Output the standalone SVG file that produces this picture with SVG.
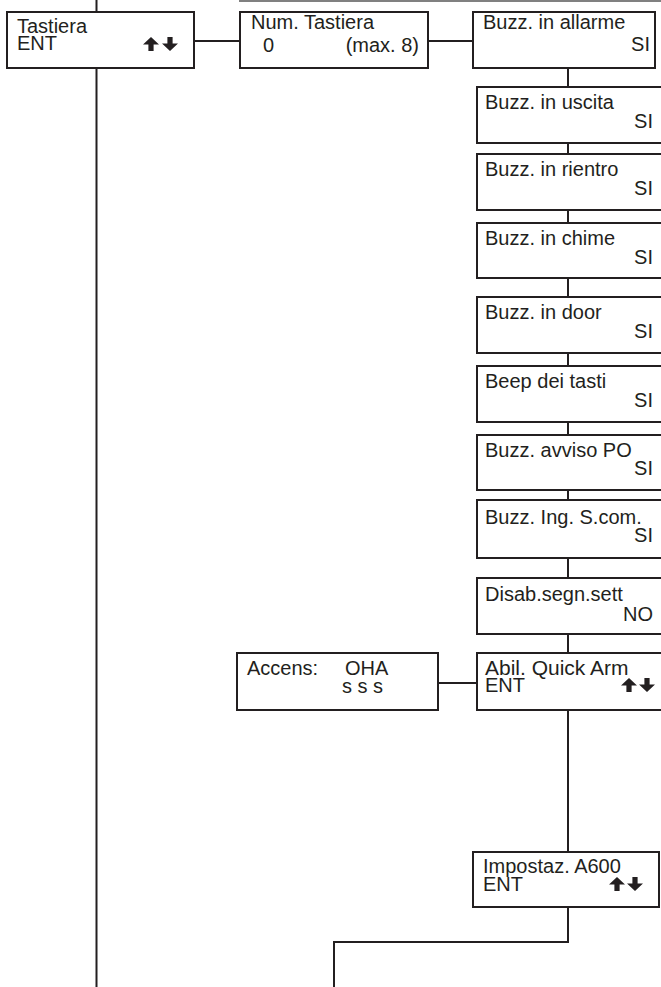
<svg xmlns="http://www.w3.org/2000/svg" width="661" height="987" viewBox="0 0 661 987">
<style>
.box{fill:#fff;stroke:#231f20;stroke-width:2}
.ln{fill:none;stroke:#231f20;stroke-width:2}
.t{font-family:"Liberation Sans",Arial,sans-serif;font-size:20px;fill:#231f20}
.e{text-anchor:end}
.ar{fill:#231f20}
</style>
<defs>
<path id="up" d="M8 0L16 7.5H10.6V14H5.4V7.5H0Z"/>
<path id="dn" d="M5.4 0H10.6V6.5H16L8 14L0 6.5H5.4Z"/>
</defs>
<rect width="661" height="987" fill="#fff"/>
<g id="connectors">
<line x1="239" y1="1" x2="661" y2="1" stroke="#808080" stroke-width="2"/>
<path class="ln" d="M96.5 0V12M96.5 68V987"/>
<path class="ln" d="M194 41H240M428 41H473"/>
<path class="ln" d="M568 68V87M568 143V154M568 210V223M568 278V297M568 353V366M568 422V435M568 490V500M568 558V578M568 634V653M568 710V852M568 907V942H334V987"/>
<path class="ln" d="M438 683H477"/>
</g>
<g id="n-tastiera">
<rect class="box" x="7" y="12" width="187" height="56"/>
<text class="t" x="17" y="33">Tastiera</text>
<text class="t" x="17" y="50">ENT</text>
<use class="ar" href="#up" x="143" y="37"/>
<use class="ar" href="#dn" x="162" y="37"/>
</g>
<g id="n-num">
<rect class="box" x="240" y="12" width="188" height="56"/>
<text class="t" x="251" y="29">Num. Tastiera</text>
<text class="t" x="263" y="52">0</text>
<text class="t e" x="419" y="52">(max. 8)</text>
</g>
<g id="n-allarme">
<rect class="box" x="473" y="12" width="182" height="56"/>
<text class="t" x="483" y="29">Buzz. in allarme</text>
<text class="t e" x="650" y="51">SI</text>
</g>
<g id="n-uscita">
<rect class="box" x="477" y="87" width="200" height="56"/>
<text class="t" x="485" y="109">Buzz. in uscita</text>
<text class="t e" x="653" y="128">SI</text>
</g>
<g id="n-rientro">
<rect class="box" x="477" y="154" width="200" height="56"/>
<text class="t" x="485" y="176">Buzz. in rientro</text>
<text class="t e" x="653" y="195">SI</text>
</g>
<g id="n-chime">
<rect class="box" x="477" y="223" width="200" height="55"/>
<text class="t" x="485" y="245">Buzz. in chime</text>
<text class="t e" x="653" y="264">SI</text>
</g>
<g id="n-door">
<rect class="box" x="477" y="297" width="200" height="56"/>
<text class="t" x="485" y="319">Buzz. in door</text>
<text class="t e" x="653" y="338">SI</text>
</g>
<g id="n-beep">
<rect class="box" x="477" y="366" width="200" height="56"/>
<text class="t" x="485" y="388">Beep dei tasti</text>
<text class="t e" x="653" y="407">SI</text>
</g>
<g id="n-avviso">
<rect class="box" x="477" y="435" width="200" height="55"/>
<text class="t" x="485" y="457">Buzz. avviso PO</text>
<text class="t e" x="653" y="475">SI</text>
</g>
<g id="n-scom">
<rect class="box" x="477" y="500" width="200" height="58"/>
<text class="t" x="485" y="524">Buzz. Ing. S.com.</text>
<text class="t e" x="653" y="542">SI</text>
</g>
<g id="n-disab">
<rect class="box" x="477" y="578" width="200" height="56"/>
<text class="t" x="485" y="601">Disab.segn.sett</text>
<text class="t e" x="653" y="621">NO</text>
</g>
<g id="n-accens">
<rect class="box" x="237" y="653" width="201" height="57"/>
<text class="t" x="247" y="675">Accens:</text>
<text class="t" x="345" y="675">OHA</text>
<text class="t" x="342" y="693">s s s</text>
</g>
<g id="n-quickarm">
<rect class="box" x="477" y="653" width="200" height="57"/>
<text class="t" x="485" y="675" style="font-size:21px">Abil. Quick Arm</text>
<text class="t" x="485" y="692">ENT</text>
<use class="ar" href="#up" x="621" y="678"/>
<use class="ar" href="#dn" x="639" y="678"/>
</g>
<g id="n-a600">
<rect class="box" x="473" y="852" width="186" height="55"/>
<text class="t" x="483" y="873">Impostaz. A600</text>
<text class="t" x="483" y="891">ENT</text>
<use class="ar" href="#up" x="609" y="877"/>
<use class="ar" href="#dn" x="627" y="877"/>
</g>
</svg>
